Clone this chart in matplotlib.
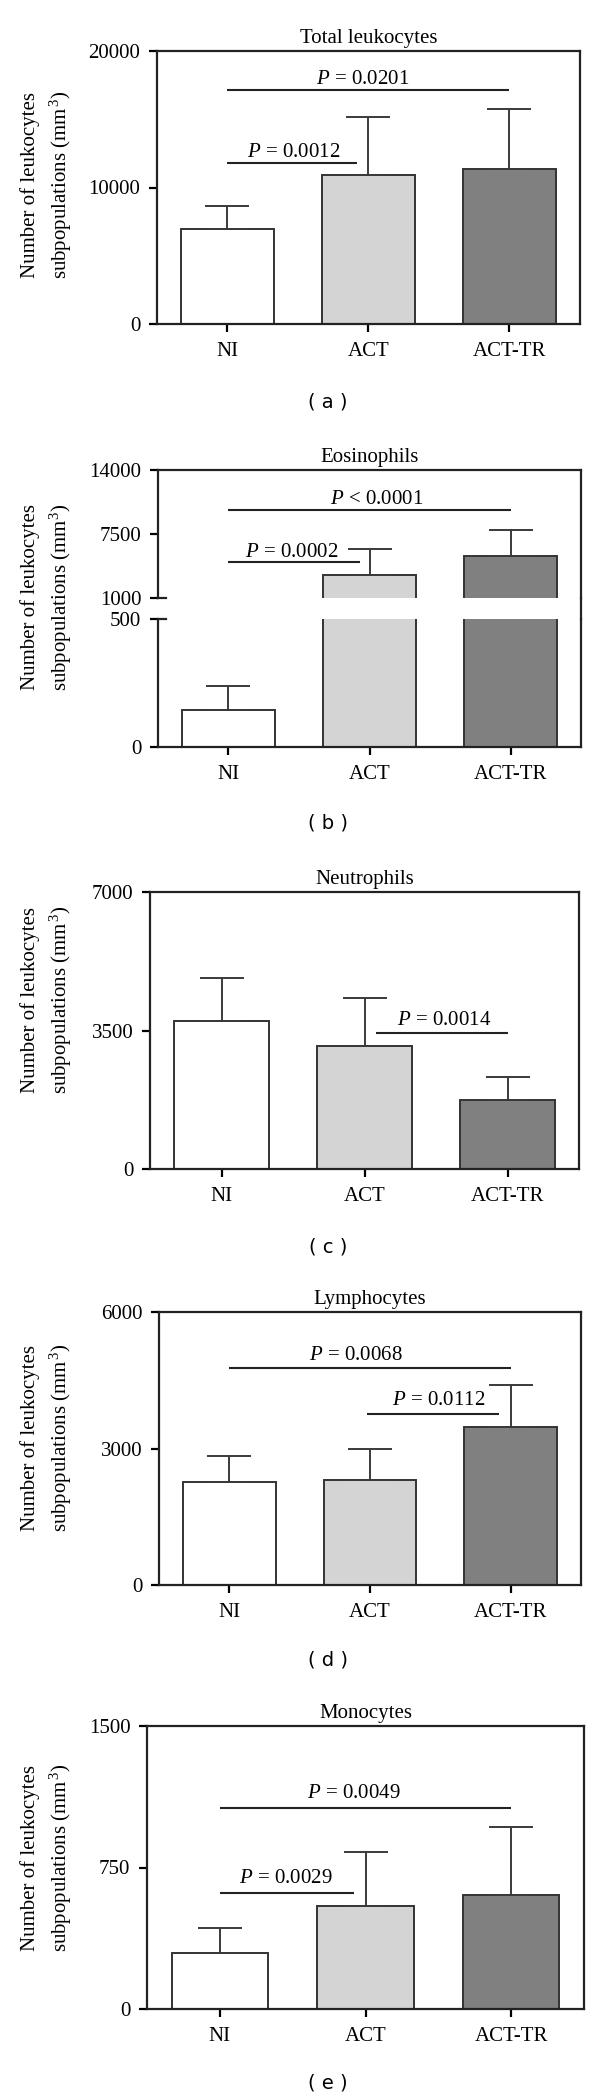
import matplotlib
matplotlib.use("Agg")
import matplotlib.pyplot as plt
from matplotlib.lines import Line2D

W, H = 600, 2099
EDGE = "#333333"
FILLS = ["#ffffff", "#d4d4d4", "#808080"]

plt.rcParams.update({
    "font.family": "Liberation Serif",
    "font.size": 15,
    "axes.titlesize": 15,
    "mathtext.fontset": "custom",
    "mathtext.rm": "Liberation Serif",
    "mathtext.it": "Liberation Serif:italic",
    "axes.linewidth": 1.6,
    "axes.edgecolor": "#222222",
    "xtick.major.width": 1.6,
    "ytick.major.width": 1.6,
    "xtick.major.size": 6,
    "ytick.major.size": 6,
    "xtick.major.pad": 7,
    "ytick.major.pad": 6,
})

categories = ["NI", "ACT", "ACT-TR"]

total_mean = [6950, 10880, 11340]
total_err = [1660, 4270, 4440]
total_ticks = [0, 10000, 20000]

eos_mean = [146, 3370, 5300]
eos_err = [94, 2610, 2640]
eos_ticks_hi = [1000, 7500, 14000]
eos_ticks_lo = [0, 500]

neut_mean = [3750, 3100, 1750]
neut_err = [1080, 1210, 565]
neut_ticks = [0, 3500, 7000]

lymph_mean = [2260, 2305, 3470]
lymph_err = [585, 695, 915]
lymph_ticks = [0, 3000, 6000]

mono_mean = [296, 548, 605]
mono_err = [132, 284, 359]
mono_ticks = [0, 750, 1500]

# p-value brackets: (x start, x end, y, text, text x)
total_p = [(0, 2, 17170, "$P$ = 0.0201", 0.96), (0, 0.92, 11830, "$P$ = 0.0012", 0.47)]
eos_p = [(0, 2, 9970, "$P$ < 0.0001", 1.05), (0, 0.93, 4616, "$P$ = 0.0002", 0.45)]
neut_p = [(1.08, 2.0, 3437, "$P$ = 0.0014", 1.56)]
lymph_p = [(0, 2, 4763, "$P$ = 0.0068", 0.9), (0.98, 1.92, 3768, "$P$ = 0.0112", 1.49)]
mono_p = [(0, 2, 1066, "$P$ = 0.0049", 0.92), (0, 0.92, 617, "$P$ = 0.0029", 0.45)]

YLABEL = "Number of leukocytes\nsubpopulations (mm$^{\\,3}$)"
YLABEL_B = "Number of leukocytes\nsubpopulations (mm$^{3}$)"

fig = plt.figure(figsize=(W / 100, H / 100), dpi=100)


def make_ax(x0, x1, y0, y1):
    return fig.add_axes([x0 / W, 1 - y1 / H, (x1 - x0) / W, (y1 - y0) / H])


def draw_bars(ax, means, errs):
    x = range(len(categories))
    ax.bar(x, means, width=0.66, color=FILLS, edgecolor=EDGE, linewidth=1.4, zorder=2)
    ax.errorbar(x, means, yerr=[[0] * len(errs), errs], fmt="none", ecolor="#3a3a3a",
                elinewidth=1.4, capsize=16, capthick=1.4, zorder=3)
    ax.set_xlim(-0.5, 2.5)


def draw_p(ax, items, gap=4):
    for x1, x2, y, txt, tx in items:
        ax.plot([x1, x2], [y, y], color="#222222", lw=1.5, solid_capstyle="butt")
        ax.annotate(txt, (tx, y), xytext=(0, gap), textcoords="offset points",
                    ha="center", va="baseline")


def finish(ax, ticks, title):
    ax.set_ylim(ticks[0], ticks[-1])
    ax.set_yticks(ticks)
    ax.set_xticks(range(len(categories)))
    ax.set_xticklabels(categories)
    ax.set_title(title, pad=6)


def labels(ylab, ylab_y, letter, letter_y):
    fig.text(47 / W, 1 - ylab_y / H, ylab, rotation=90, ha="center", va="center",
             multialignment="center", linespacing=1.4)
    fig.text(328 / W, 1 - letter_y / H, f"( {letter} )", ha="center", va="center",
             family="DejaVu Sans", fontsize=14)


# (a) total leukocytes
ax = make_ax(157, 580, 51, 324)
draw_bars(ax, total_mean, total_err)
draw_p(ax, total_p)
finish(ax, total_ticks, "Total leukocytes")
labels(YLABEL, 185, "a", 402)

# (b) eosinophils, broken axis
ax_hi = make_ax(158, 581, 470, 598)
ax_lo = make_ax(158, 581, 619, 747)
for a in (ax_hi, ax_lo):
    draw_bars(a, eos_mean, eos_err)
draw_p(ax_hi, eos_p)
ax_hi.set_ylim(eos_ticks_hi[0], eos_ticks_hi[-1])
ax_hi.set_yticks(eos_ticks_hi)
ax_hi.set_xticks([])
ax_hi.spines["bottom"].set_visible(False)
ax_hi.set_title("Eosinophils", pad=6)
ax_lo.set_ylim(eos_ticks_lo[0], eos_ticks_lo[-1])
ax_lo.set_yticks(eos_ticks_lo)
ax_lo.set_xticks(range(len(categories)))
ax_lo.set_xticklabels(categories)
ax_lo.spines["top"].set_visible(False)
# continuous right spine and inner half of the break ticks
fig.add_artist(Line2D([581 / W, 581 / W], [1 - 598 / H, 1 - 619 / H],
                      color="#222222", lw=1.6))
for yb in (598, 619):
    fig.add_artist(Line2D([158 / W, 166 / W], [1 - yb / H, 1 - yb / H],
                          color="#222222", lw=1.6))
labels(YLABEL_B, 597, "b", 823)

# (c) neutrophils
ax = make_ax(150, 579, 892, 1169)
draw_bars(ax, neut_mean, neut_err)
draw_p(ax, neut_p, gap=6)
finish(ax, neut_ticks, "Neutrophils")
labels(YLABEL, 1000, "c", 1247)

# (d) lymphocytes
ax = make_ax(159, 581, 1312, 1585)
draw_bars(ax, lymph_mean, lymph_err)
draw_p(ax, lymph_p, gap=6)
finish(ax, lymph_ticks, "Lymphocytes")
labels(YLABEL, 1438, "d", 1660)

# (e) monocytes
ax = make_ax(147, 584, 1726, 2009)
draw_bars(ax, mono_mean, mono_err)
draw_p(ax, mono_p, gap=7)
finish(ax, mono_ticks, "Monocytes")
labels(YLABEL, 1858, "e", 2083)

fig.savefig("out.png", dpi=100)
